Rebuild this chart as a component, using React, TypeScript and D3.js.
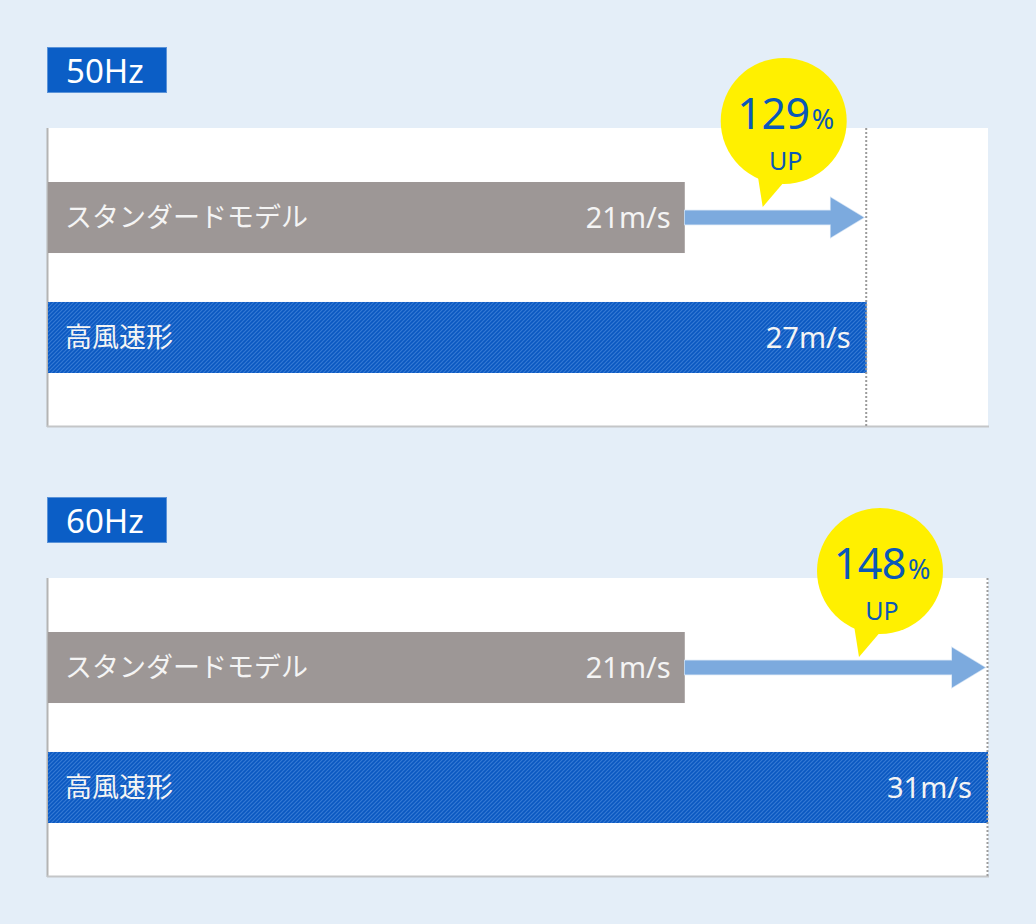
import * as d3 from "d3";
import React, { useEffect, useRef } from "react";

// frequencies (one panel each)
const panels = ["50Hz", "60Hz"];
// bar categories
const models = ["スタンダードモデル", "高風速形"];
// wind speed m/s per panel, same order as models
const speeds50 = [21, 27];
const speeds60 = [21, 31];
// ratio callouts
const upValues = ["129", "148"];

const W = 1036;
const H = 924;

export default function App() {
  const svgRef = useRef<SVGSVGElement | null>(null);

  useEffect(() => {
    document.body.style.margin = "0";
    const svg = d3.select(svgRef.current);
    svg.selectAll("*").remove();

    const series = [speeds50, speeds60];
    const maxAll = d3.max(series.flat()) ?? 31;

    const x = d3.scaleLinear().domain([0, maxAll]).range([48, 988]);
    const y = d3.scaleBand<string>().domain(models).range([54, 245]).paddingInner(0.408);

    const latin = "'Noto Sans', 'DejaVu Sans', sans-serif";
    const cjk = "'Noto Sans CJK JP', 'Noto Sans', sans-serif";

    svg.append("rect").attr("width", W).attr("height", H).attr("fill", "#e4eef8");

    // diagonal stripe for the high wind bar
    const defs = svg.append("defs");
    const pat = defs.append("pattern")
      .attr("id", "stripe")
      .attr("patternUnits", "userSpaceOnUse")
      .attr("width", 4)
      .attr("height", 4);
    pat.append("rect").attr("width", 4).attr("height", 4).attr("fill", "#0a58c1");
    pat.append("path")
      .attr("d", "M-1,1 l2,-2 M0,4 l4,-4 M3,5 l2,-2")
      .attr("stroke", "#3479d4")
      .attr("stroke-width", 1.2);

    panels.forEach((name, i) => {
      const vals = series[i];
      const top = 128 + 450 * i;
      const bottom = top + 299;
      const g = svg.append("g").attr("transform", `translate(0,${top})`);

      // header tag
      svg.append("rect")
        .attr("x", 47.5).attr("y", 47.5 + 450 * i)
        .attr("width", 119).attr("height", 45)
        .attr("fill", "#0b5ec6").attr("stroke", "#5b93d8");
      svg.append("text")
        .attr("x", 66).attr("y", 83 + 450 * i)
        .attr("fill", "#fff").attr("font-family", latin).attr("font-size", 33)
        .text(name);

      // panel
      g.append("rect").attr("x", 47).attr("y", 0)
        .attr("width", x(maxAll) - 47).attr("height", bottom - top)
        .attr("fill", "#fff");
      g.append("line").attr("x1", 47.5).attr("x2", 47.5).attr("y1", 0).attr("y2", bottom - top)
        .attr("stroke", "#b4b4b4").attr("stroke-width", 2);
      g.append("line").attr("x1", 47).attr("x2", x(maxAll) + 1).attr("y1", bottom - top - 0.5).attr("y2", bottom - top - 0.5)
        .attr("stroke", "#c4c6c8").attr("stroke-width", 2);

      // bars
      g.selectAll("rect.bar")
        .data(models)
        .join("rect")
        .attr("class", "bar")
        .attr("x", x(0))
        .attr("y", d => y(d) ?? 0)
        .attr("width", (d, k) => x(vals[k]) - x(0))
        .attr("height", y.bandwidth())
        .attr("fill", (d, k) => k === 0 ? "#9d9796" : "url(#stripe)");

      // dashed reference at the fast value
      const vMax = d3.max(vals) ?? 0;
      g.append("line")
        .attr("x1", x(vMax) - 0.5).attr("x2", x(vMax) - 0.5)
        .attr("y1", 0).attr("y2", bottom - top)
        .attr("stroke", "#9c9c9c").attr("stroke-width", 2)
        .attr("stroke-dasharray", "2,2");

      g.selectAll("text.name")
        .data(models)
        .join("text")
        .attr("class", "name")
        .attr("x", 65)
        .attr("y", d => (y(d) ?? 0) + y.bandwidth() / 2)
        .attr("dy", "0.36em")
        .attr("fill", "#f4f4f4")
        .attr("font-family", cjk)
        .attr("font-size", 27)
        .text(d => d);

      g.selectAll("text.val")
        .data(models)
        .join("text")
        .attr("class", "val")
        .attr("x", (d, k) => x(vals[k]) - (k === 0 ? 14 : 16))
        .attr("y", d => (y(d) ?? 0) + y.bandwidth() / 2)
        .attr("dy", "0.36em")
        .attr("text-anchor", "end")
        .attr("fill", "#f4f4f4")
        .attr("font-family", latin)
        .attr("font-size", 29)
        .text((d, k) => `${vals[k]}m/s`);

      // arrow from standard bar end to fast value
      const ay = (y(models[0]) ?? 0) + y.bandwidth() / 2;
      const x0 = x(vals[0]);
      const x1 = x(vMax) - 3;
      const headL = 33, headH = 20, shaft = 7;
      const arrowPath = d3.path();
      arrowPath.moveTo(x0, ay - shaft);
      arrowPath.lineTo(x1 - headL, ay - shaft);
      arrowPath.lineTo(x1 - headL, ay - headH);
      arrowPath.lineTo(x1, ay);
      arrowPath.lineTo(x1 - headL, ay + headH);
      arrowPath.lineTo(x1 - headL, ay + shaft);
      arrowPath.lineTo(x0, ay + shaft);
      arrowPath.closePath();
      g.append("path").attr("d", arrowPath.toString())
        .attr("fill", "#7caade").attr("stroke", "#d2e2f4").attr("stroke-width", 1.5)
        .attr("stroke-linejoin", "miter");
      g.append("path").attr("d", arrowPath.toString()).attr("fill", "#7caade");

      // speech bubble
      const cx = x(vMax) - (i === 0 ? 83 : 108);
      const cy = -7;
      const r = 63;
      g.append("path")
        .attr("d", `M${cx - 27},${cy + 48} L${cx - 21},${cy + 86} L${cx + 8},${cy + 52} Z`)
        .attr("fill", "#fff000");
      g.append("circle").attr("cx", cx).attr("cy", cy).attr("r", r).attr("fill", "#fff000");

      const t = g.append("text")
        .attr("x", cx + 2).attr("y", cy + 8)
        .attr("text-anchor", "middle")
        .attr("fill", "#0b58b9")
        .attr("font-family", latin);
      t.append("tspan").attr("font-size", 43).attr("letter-spacing", -0.5).text(upValues[i]);
      t.append("tspan").attr("font-size", 27).attr("dx", 2).text("%");
      g.append("text")
        .attr("x", cx + 2).attr("y", cy + 49)
        .attr("text-anchor", "middle")
        .attr("fill", "#0b58b9")
        .attr("font-family", latin)
        .attr("font-size", 25)
        .text("UP");
    });
  }, []);

  return <svg ref={svgRef} width={W} height={H} style={{ display: "block" }} />;
}
